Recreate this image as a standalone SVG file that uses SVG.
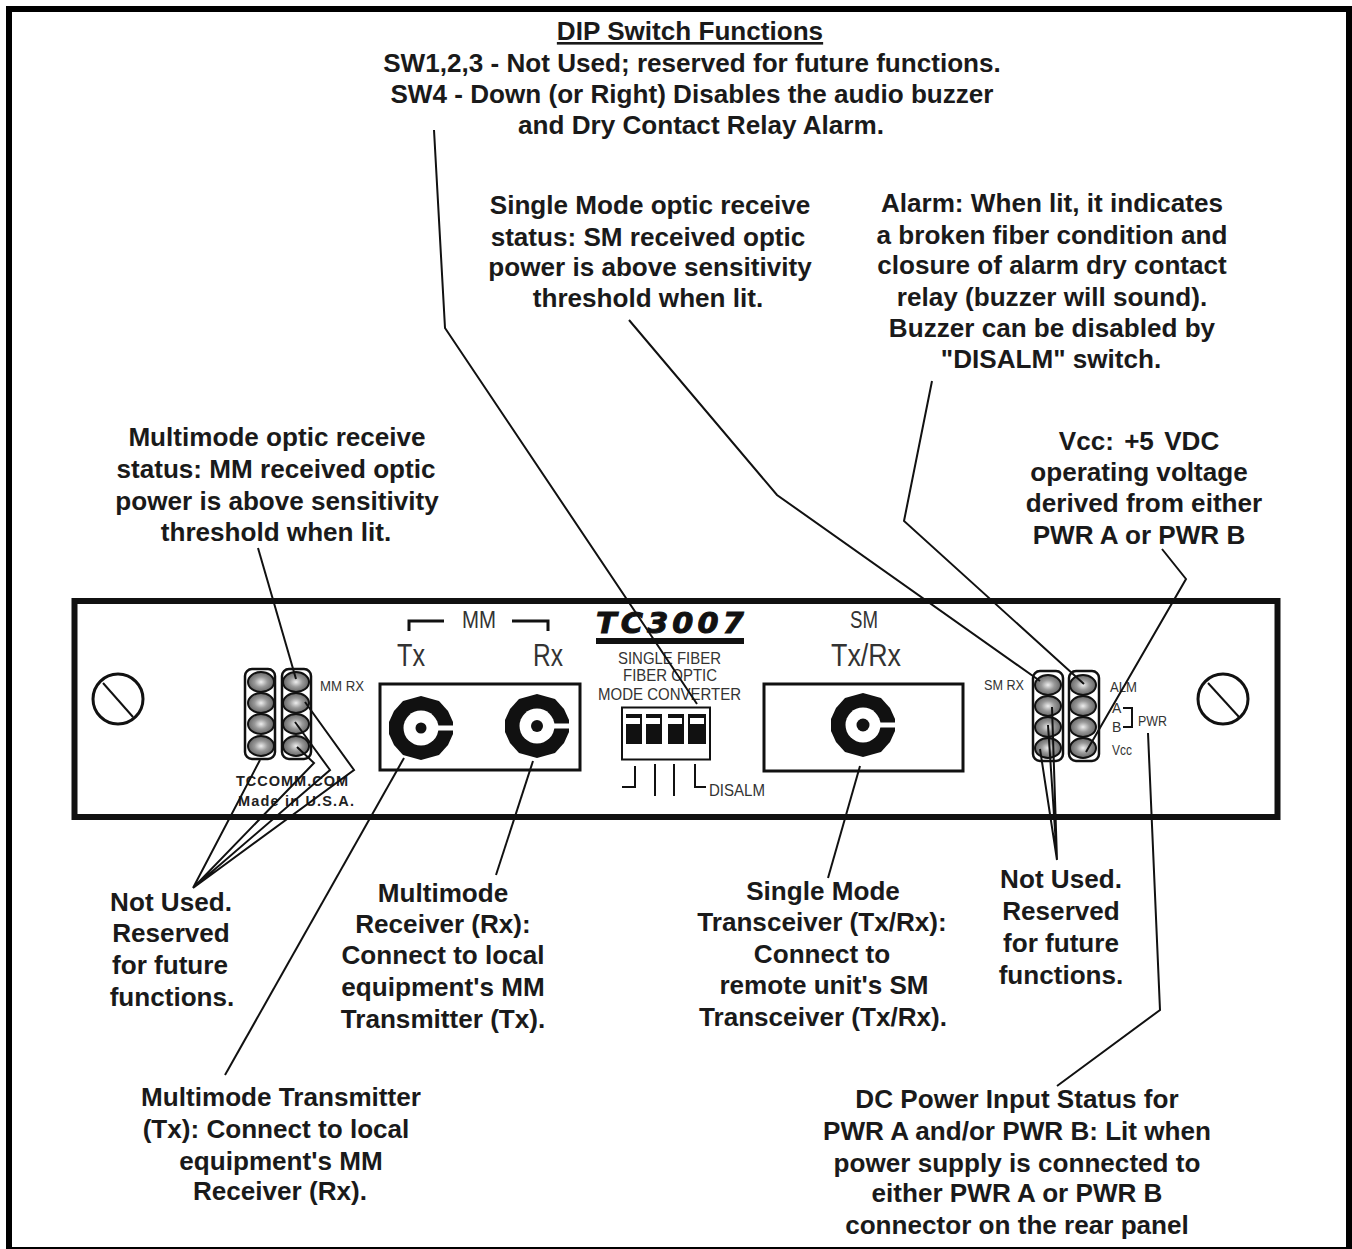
<svg xmlns="http://www.w3.org/2000/svg" xmlns:xlink="http://www.w3.org/1999/xlink" width="1352" height="1249" viewBox="0 0 1352 1249">
<style>
text{font-family:"Liberation Sans",Arial,sans-serif}
.n{font-weight:bold;font-size:26.1px;fill:#1a1a1a;text-anchor:middle}
.s{fill:#333;font-size:16px}
.b{fill:none;stroke:#111;stroke-width:3}
.c{fill:none;stroke:#111;stroke-width:2}
.led{fill:url(#g);stroke:#111;stroke-width:2}
.col{fill:#fff;stroke:#111;stroke-width:2.5}
.k{fill:#111}
.w{fill:#fff}
</style>
<defs>
<radialGradient id="g"><stop offset="0" stop-color="#eee"/><stop offset="0.5" stop-color="#999"/><stop offset="1" stop-color="#666"/></radialGradient>
<g id="ring">
<path d="M0-32L18-27L27-17L32-6V6L27 17L18 27L0 32L-18 27L-27 17L-32 6V-6L-27-17L-18-27Z" class="k"/>
<circle r="17.500" class="w"/><rect x="14" y="-2.500" width="19" height="5" class="w"/>
</g>
</defs>
<rect width="1352" height="1249" fill="#fff"/>
<path id="outer-frame" d="M9 1249V9H1349V1249" fill="none" stroke="#000" stroke-width="6"/>
<path d="M6 1248H1352" stroke="#000" stroke-width="2"/>
<g id="panel">
<rect x="74.500" y="601" width="1203" height="216" fill="#fff" stroke="#111" stroke-width="6"/>
</g>
<g id="screw-left"><circle cx="118" cy="699" r="25" class="b"/><path d="M103 683L133 717" class="c"/></g>
<g id="screw-right"><circle cx="1223" cy="699" r="25" class="b"/><path d="M1208 683L1239 717" class="c"/></g>
<g id="leds-left">
<rect x="245" y="669" width="30" height="90" rx="7" class="col"/><rect x="282" y="669" width="29" height="90" rx="7" class="col"/>
<ellipse cx="261" cy="682" rx="13" ry="10" class="led"/><ellipse cx="261" cy="703" rx="13" ry="10" class="led"/><ellipse cx="261" cy="724" rx="13" ry="10" class="led"/><ellipse cx="261" cy="746" rx="13" ry="10" class="led"/>
<ellipse cx="296" cy="682" rx="13" ry="10" class="led"/><ellipse cx="296" cy="703" rx="13" ry="10" class="led"/><ellipse cx="296" cy="724" rx="13" ry="10" class="led"/><ellipse cx="296" cy="746" rx="13" ry="10" class="led"/>
<text x="320" y="691" class="s" textLength="44" lengthAdjust="spacingAndGlyphs" style="font-size:14px">MM RX</text>
<text x="236" y="786" font-weight="bold" textLength="112" style="font-size:14.500px" fill="#222">TCCOMM.COM</text>
<text x="238" y="806" font-weight="bold" textLength="116" style="font-size:14.500px" fill="#222">Made in U.S.A.</text>
</g>
<g id="mm-ports">
<path d="M409 631V621H444M512 621H548V631" fill="none" stroke="#111" stroke-width="3"/>
<text x="462" y="628" textLength="34" lengthAdjust="spacingAndGlyphs" class="s" style="font-size:23px">MM</text>
<text x="397" y="666" textLength="28" lengthAdjust="spacingAndGlyphs" class="s" style="font-size:32px">Tx</text>
<text x="533" y="666" textLength="30" lengthAdjust="spacingAndGlyphs" class="s" style="font-size:32px">Rx</text>
<rect x="380" y="684" width="200" height="86" class="b"/>
<use href="#ring" xlink:href="#ring" x="421" y="728"/><circle cx="421" cy="728" r="5.500" class="k"/>
<use href="#ring" xlink:href="#ring" x="537" y="726"/><circle cx="537" cy="726" r="6" class="k"/>
</g>
<g id="title">
<text x="596" y="633" font-weight="bold" font-style="italic" textLength="152" lengthAdjust="spacingAndGlyphs" style="font-family:'DejaVu Sans',sans-serif;font-size:29px;letter-spacing:4px" fill="#111" stroke="#111" stroke-width="1">TC3007</text>
<rect x="596" y="638" width="148" height="6" class="k"/>
<text x="618" y="664" textLength="103" lengthAdjust="spacingAndGlyphs" class="s" style="font-size:17px">SINGLE FIBER</text>
<text x="623" y="681" textLength="94" lengthAdjust="spacingAndGlyphs" class="s" style="font-size:17px">FIBER OPTIC</text>
<text x="598" y="700" textLength="143" lengthAdjust="spacingAndGlyphs" class="s" style="font-size:17px">MODE CONVERTER</text>
</g>
<g id="dip-switch">
<rect x="622" y="707.500" width="88" height="52" fill="#fff" stroke="#111" stroke-width="2"/>
<rect x="626" y="714" width="16" height="30" class="k"/><rect x="646" y="714" width="16" height="30" class="k"/><rect x="668" y="714" width="16" height="30" class="k"/><rect x="688" y="714" width="18" height="30" class="k"/>
<rect x="626" y="718" width="14" height="6" class="w"/><rect x="646" y="718" width="14" height="6" class="w"/><rect x="668" y="718" width="14" height="6" class="w"/><rect x="690" y="718" width="14" height="6" class="w"/>
<path d="M622 787H635V766M655 764V796M674 764V796M695 764V787H706" class="c"/>
<text x="709" y="796" textLength="56" lengthAdjust="spacingAndGlyphs" class="s" style="font-size:17px">DISALM</text>
</g>
<g id="sm-port">
<text x="850" y="628" textLength="28" lengthAdjust="spacingAndGlyphs" class="s" style="font-size:23px">SM</text>
<text x="831" y="666" textLength="70" lengthAdjust="spacingAndGlyphs" class="s" style="font-size:32px">Tx/Rx</text>
<rect x="764" y="684" width="199" height="87" class="b"/>
<use href="#ring" xlink:href="#ring" x="863" y="725"/><circle cx="863" cy="725" r="6.500" class="k"/>
</g>
<g id="leds-right">
<rect x="1033" y="671" width="30" height="90" rx="7" class="col"/><rect x="1069" y="671" width="30" height="90" rx="7" class="col"/>
<ellipse cx="1048" cy="685" rx="13" ry="10" class="led"/><ellipse cx="1048" cy="706" rx="13" ry="10" class="led"/><ellipse cx="1048" cy="727" rx="13" ry="10" class="led"/><ellipse cx="1048" cy="748" rx="13" ry="10" class="led"/>
<ellipse cx="1083" cy="685" rx="13" ry="10" class="led"/><ellipse cx="1083" cy="706" rx="13" ry="10" class="led"/><ellipse cx="1083" cy="727" rx="13" ry="10" class="led"/><ellipse cx="1083" cy="748" rx="13" ry="10" class="led"/>
<text x="984" y="690" textLength="40" lengthAdjust="spacingAndGlyphs" class="s" style="font-size:14px">SM RX</text>
<text x="1110" y="692" textLength="27" lengthAdjust="spacingAndGlyphs" class="s" style="font-size:14px">ALM</text>
<text x="1112" y="713" class="s" style="font-size:14px">A</text>
<text x="1112" y="732" class="s" style="font-size:14px">B</text>
<text x="1138" y="726" textLength="29" lengthAdjust="spacingAndGlyphs" class="s" style="font-size:14px">PWR</text>
<text x="1112" y="755" textLength="20" lengthAdjust="spacingAndGlyphs" class="s" style="font-size:14px">Vcc</text>
<path d="M1123 708H1132V727H1123" class="c"/>
</g>
<g id="connectors" class="c">
<path class="c" d="M434 130L445 328L697 704"/>
<path class="c" d="M629 320L777 495L1040 681"/>
<path class="c" d="M932 381L904 521L1084 684"/>
<path class="c" d="M1162 549L1186 579L1086 752"/>
<path class="c" d="M1148 733L1160 1010L1057 1086"/>
<path class="c" d="M1040 749L1057 860M1048 725L1057 860M1052 707L1057 860"/>
<path class="c" d="M193 888L260 760M193 888L314 763L297 747M193 888L330 770L295 722M193 888L354 770L305 702"/>
<path class="c" d="M258 548L296 679"/>
<path class="c" d="M225 1075L404 758"/>
<path class="c" d="M496 875L533 761"/>
<path class="c" d="M828 878L860 766"/>
</g>
<g id="note-dip">
<text x="690" y="40" class="n" text-decoration="underline">DIP Switch Functions</text>
<text x="692" y="72" class="n">SW1,2,3 - Not Used; reserved for future functions.</text>
<text x="692" y="103" class="n">SW4 - Down (or Right) Disables the audio buzzer</text>
<text x="701" y="134" class="n">and Dry Contact Relay Alarm.</text>
</g>
<g id="note-sm-rx">
<text x="650" y="214" class="n">Single Mode optic receive</text>
<text x="648" y="246" class="n">status: SM received optic</text>
<text x="650" y="276" class="n">power is above sensitivity</text>
<text x="648" y="307" class="n">threshold when lit.</text>
</g>
<g id="note-alarm">
<text x="1052" y="212" class="n">Alarm: When lit, it indicates</text>
<text x="1052" y="244" class="n">a broken fiber condition and</text>
<text x="1052" y="274" class="n">closure of alarm dry contact</text>
<text x="1052" y="306" class="n">relay (buzzer will sound).</text>
<text x="1052" y="337" class="n">Buzzer can be disabled by</text>
<text x="1051" y="368" class="n">"DISALM" switch.</text>
</g>
<g id="note-vcc">
<text x="1139" y="450" class="n" word-spacing="3">Vcc: +5 VDC</text>
<text x="1139" y="481" class="n">operating voltage</text>
<text x="1144" y="512" class="n">derived from either</text>
<text x="1139" y="544" class="n">PWR A or PWR B</text>
</g>
<g id="note-mm-rx">
<text x="277" y="446" class="n">Multimode optic receive</text>
<text x="276" y="478" class="n">status: MM received optic</text>
<text x="277" y="510" class="n">power is above sensitivity</text>
<text x="276" y="541" class="n">threshold when lit.</text>
</g>
<g id="note-not-used-left">
<text x="171" y="911" class="n">Not Used.</text>
<text x="171" y="942" class="n">Reserved</text>
<text x="170" y="974" class="n">for future</text>
<text x="172" y="1006" class="n">functions.</text>
</g>
<g id="note-mm-receiver">
<text x="443" y="902" class="n">Multimode</text>
<text x="443" y="933" class="n">Receiver (Rx):</text>
<text x="443" y="964" class="n">Connect to local</text>
<text x="443" y="996" class="n">equipment's MM</text>
<text x="443" y="1028" class="n">Transmitter (Tx).</text>
</g>
<g id="note-sm-transceiver">
<text x="823" y="900" class="n">Single Mode</text>
<text x="822" y="931" class="n">Transceiver (Tx/Rx):</text>
<text x="822" y="963" class="n">Connect to</text>
<text x="824" y="994" class="n">remote unit's SM</text>
<text x="823" y="1026" class="n">Transceiver (Tx/Rx).</text>
</g>
<g id="note-not-used-right">
<text x="1061" y="888" class="n">Not Used.</text>
<text x="1061" y="920" class="n">Reserved</text>
<text x="1061" y="952" class="n">for future</text>
<text x="1061" y="984" class="n">functions.</text>
</g>
<g id="note-mm-transmitter">
<text x="281" y="1106" class="n">Multimode Transmitter</text>
<text x="276" y="1138" class="n">(Tx): Connect to local</text>
<text x="281" y="1170" class="n">equipment's MM</text>
<text x="280" y="1200" class="n">Receiver (Rx).</text>
</g>
<g id="note-power">
<text x="1017" y="1108" class="n">DC Power Input Status for</text>
<text x="1017" y="1140" class="n">PWR A and/or PWR B: Lit when</text>
<text x="1017" y="1172" class="n">power supply is connected to</text>
<text x="1017" y="1202" class="n">either PWR A or PWR B</text>
<text x="1017" y="1234" class="n">connector on the rear panel</text>
</g>
</svg>
